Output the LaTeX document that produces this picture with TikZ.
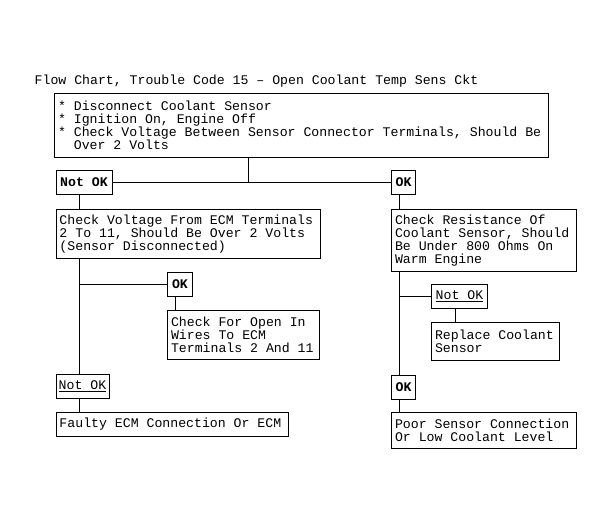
\documentclass[tikz,border=0pt]{standalone}
\usepackage{fontspec}
\setmainfont{Liberation Mono}
\usetikzlibrary{positioning}
\begin{document}
\begin{tikzpicture}[x=1pt, y=-1pt,
	font=\fontsize{13.2}{13}\selectfont,
	% Style for the instruction boxes
	stepbox/.style={draw, line width=1pt, anchor=north west, align=left,
		inner xsep=3.5pt, inner ysep=0pt,
		execute at begin node={\spaceskip=0.6em\relax}},
	% Style for the small result tags
	tag/.style={draw, line width=1pt, anchor=north west,
		minimum height=24pt, inner sep=0pt},
	tagbold/.style={tag, font=\fontsize{13.2}{13}\selectfont\bfseries},
	% Style for the connecting lines
	link/.style={line width=1pt}
	]
	\useasboundingbox (0,0) rectangle (614,525);
	
	% ================= Title =================
	\node[anchor=base west, inner sep=0pt] (title) at (34.5,84) {Flow Chart, Trouble Code 15 – Open Coolant Temp Sens Ckt};
	
	% ================= First check =================
	\node[stepbox, text width=487pt, minimum height=64pt] (check) at (54,93)
		{* Disconnect Coolant Sensor\\{}* Ignition On, Engine Off\\{}* Check Voltage Between Sensor Connector Terminals, Should Be\\\phantom{* }Over 2 Volts};
	
	\node[tagbold, minimum width=56pt] (notokA) at (55.5,170) {Not OK};
	\node[tagbold, minimum width=24pt] (okA) at (391,170) {OK};
	
	% Column positions of the vertical lines
	\coordinate (split) at (248,182);
	\coordinate (cL) at (79.5,0);
	\coordinate (cM) at (175.5,0);
	\coordinate (cR) at (399,0);
	\coordinate (cN) at (455.5,0);
	
	\draw[link] (check.south -| split) -- (split);
	\draw[link] (notokA.east) -- (okA.west);
	
	% ================= Left branch (Not OK) =================
	\node[stepbox, text width=257pt, minimum height=49pt] (voltECM) at (55.5,209)
		{Check Voltage From ECM Terminals\\2 To 11, Should Be Over 2 Volts\\(Sensor Disconnected)};
	
	\node[tagbold, minimum width=25pt] (okM) at (167,272) {OK};
	\node[stepbox, text width=145pt, minimum height=49pt] (openWires) at (167,310)
		{Check For Open In\\Wires To ECM\\Terminals 2 And 11};
	
	\node[tag, minimum width=53pt] (notokB) at (55.5,374) {\underline{Not OK}};
	\node[stepbox, text width=225pt, minimum height=24pt] (faulty) at (55.5,412)
		{Faulty ECM Connection Or ECM};
	
	\draw[link] (notokA.south -| cL) -- (voltECM.north -| cL);
	\draw[link] (voltECM.south -| cL) -- (notokB.north -| cL);
	\draw[link] (cL |- okM.west) -- (okM.west);
	\draw[link] (okM.south -| cM) -- (openWires.north -| cM);
	\draw[link] (notokB.south -| cL) -- (faulty.north -| cL);
	
	% ================= Right branch (OK) =================
	\node[stepbox, text width=178pt, minimum height=62pt] (resist) at (391,209)
		{Check Resistance Of\\Coolant Sensor, Should\\Be Under 800 Ohms On\\Warm Engine};
	
	\node[tag, minimum width=56pt] (notokC) at (431,284) {\underline{Not OK}};
	\node[stepbox, text width=121pt, minimum height=38pt] (replace) at (431,322)
		{Replace Coolant\\Sensor};
	
	\node[tagbold, minimum width=24pt] (okB) at (391,375) {OK};
	\node[stepbox, text width=178pt, minimum height=36pt] (poor) at (391,412)
		{Poor Sensor Connection\\Or Low Coolant Level};
	
	\draw[link] (okA.south -| cR) -- (resist.north -| cR);
	\draw[link] (resist.south -| cR) -- (okB.north -| cR);
	\draw[link] (cR |- notokC.west) -- (notokC.west);
	\draw[link] (notokC.south -| cN) -- (replace.north -| cN);
	\draw[link] (okB.south -| cR) -- (poor.north -| cR);
	
\end{tikzpicture}
\end{document}
